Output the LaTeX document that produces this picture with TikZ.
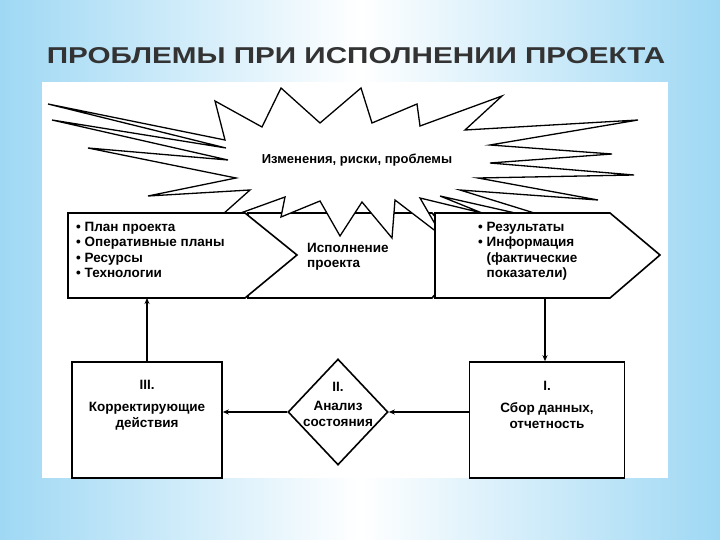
\documentclass[tikz,border=0pt]{standalone}
\usepackage{fontspec}
\setmainfont{Liberation Sans}
\usetikzlibrary{shapes.geometric,arrows.meta}
\definecolor{sky}{HTML}{9FD8F4}
\begin{document}
\begin{tikzpicture}[x=1pt,y=-1pt,
  shp/.style={draw=black,line width=1.6pt,fill=white,line join=miter},
  txt/.style={font=\fontsize{13.5}{15.5}\selectfont\bfseries,align=left,inner sep=0},
  ctx/.style={font=\fontsize{13.5}{16}\selectfont\bfseries,align=center,inner sep=0},
  arr/.style={line width=1.4pt,-{Stealth[length=6pt,width=5pt]}}]
\shade[left color=sky,right color=sky,middle color=white] (0,0) rectangle (720,540);
\node[text=black!80] (title) at (356,56) {\resizebox{618pt}{16pt}{\bfseries ПРОБЛЕМЫ ПРИ ИСПОЛНЕНИИ ПРОЕКТА}};
\fill[white] (42,82) rectangle (668,478);
\draw[shp] (248,213) -- (432,213) -- (470,255) -- (432,298) -- (248,298) -- cycle;
% star
\draw[shp,line width=1.3pt] (48,104) -- (225,140) -- (215,101) -- (262,127) -- (281,88) -- (320,123)
 -- (361,88) -- (372,123) -- (417,104) -- (420,126) -- (502,96) -- (465,130) -- (638,120)
 -- (490,145) -- (612,154) -- (490,163) -- (634,175) -- (478,178) -- (598,200) -- (460,190)
 -- (586,229) -- (440,196) -- (482,213) -- (420,198) -- (442,236) -- (395,200) -- (392,238)
 -- (362,202) -- (340,236) -- (320,201) -- (281,217) -- (285,197) -- (213,223) -- (250,190)
 -- (148,196) -- (236,178) -- (88,148) -- (228,160) -- (52,120) -- (226,148) -- cycle;
\node[font=\fontsize{13}{14}\selectfont\bfseries] (star) at (357,160) {Изменения, риски, проблемы};
% pentagons
\draw[shp] (68,213) -- (245,213) -- (297,255) -- (245,298) -- (68,298) -- cycle;
\draw[shp] (435,213) -- (610,213) -- (660,255) -- (610,298) -- (435,298) -- cycle;
\node[txt,anchor=north west] (p1) at (76,222) {• План проекта\\• Оперативные планы\\• Ресурсы\\• Технологии};
\node[txt,anchor=north west] (p2) at (307,243) {Исполнение\\проекта};
\node[txt,anchor=north west] (p3) at (478,222) {• Результаты\\• Информация\\\hphantom{• }(фактические\\\hphantom{• }показатели)};
\coordinate (lt) at (147,298); \coordinate (rt) at (545,298);
% bottom
\node[shp,minimum width=150pt,minimum height=116pt] (b3) at (147,420) {};
\node[ctx] at (147,405) {III.\\[6pt]Корректирующие\\действия};
\node[shp,diamond,minimum width=100pt,minimum height=106pt,inner sep=0] (b2) at (338,412) {};
\node[ctx] at (338,404) {II.\\[3pt]Анализ\\состояния};
\node[shp,minimum width=155pt,minimum height=116pt] (b1) at (547,420) {};
\node[ctx] at (547,405) {I.\\[6pt]Сбор данных,\\отчетность};
\draw[arr] (rt) -- (b1.north -| rt);
\draw[arr] (b1.west |- b2) -- (b2.east);
\draw[arr] (b2.west) -- (b3.east |- b2);
\draw[arr] (b3.north -| lt) -- (lt);
\end{tikzpicture}
\end{document}
